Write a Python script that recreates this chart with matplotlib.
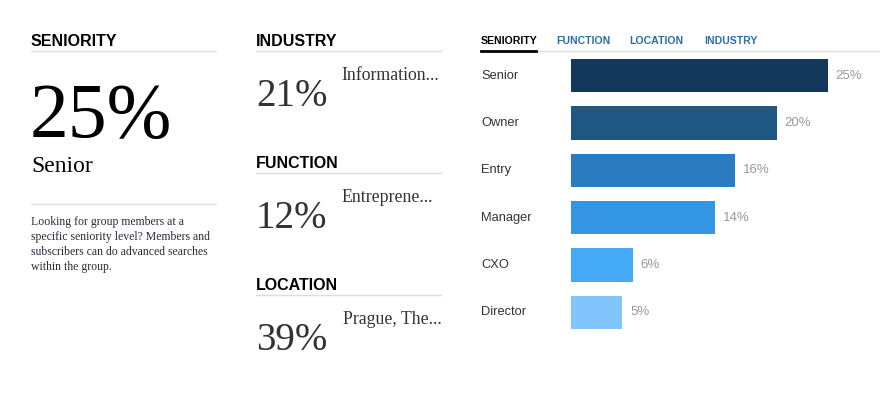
import matplotlib.pyplot as plt
from matplotlib.lines import Line2D
from matplotlib.transforms import blended_transform_factory

W, H = 880, 395

# data
seniority = ['Senior', 'Owner', 'Entry', 'Manager', 'CXO', 'Director']
share = [25, 20, 16, 14, 6, 5]
bar_colors = ['#13385a', '#1d5782', '#2a7bbf', '#3496e3', '#45aaf7', '#82c4fc']
tabs = ['SENIORITY', 'FUNCTION', 'LOCATION', 'INDUSTRY']
top_sections = ['INDUSTRY', 'FUNCTION', 'LOCATION']
top_pct = [21, 12, 39]
top_names = ['Information...', 'Entreprene...', 'Prague, The...']

SANS = 'Liberation Sans'
SERIF = 'Liberation Serif'


def fx(x):
    return x / W


def fy(y):
    return 1 - y / H


def hline(fig, x0, x1, y, color='#dddddd', lw=1.0):
    fig.add_artist(Line2D([fx(x0), fx(x1)], [fy(y), fy(y)], color=color, lw=lw,
                          transform=fig.transFigure))


fig = plt.figure(figsize=(W / 100, H / 100), dpi=100)
fig.patch.set_facecolor('white')

# left column
fig.text(fx(31), fy(42), 'SENIORITY', fontsize=11.5, fontweight='bold', family=SANS,
         color='black', va='center')
hline(fig, 31, 216, 51)
fig.text(fx(30), fy(118), f'{share[0]}%', fontsize=56, family=SERIF, color='black', va='center')
fig.text(fx(31), fy(166), seniority[0], fontsize=17, family=SERIF, color='black', va='center')
hline(fig, 31, 216, 204)
para = ('Looking for group members at a\nspecific seniority level? Members and\n'
        'subscribers can do advanced searches\nwithin the group.')
fig.text(fx(31), fy(216), para, fontsize=8.5, family=SERIF, color='#2b2b3b', va='top',
         linespacing=1.33)

# middle column
head_y = [42, 164, 286]
for i, name in enumerate(top_sections):
    y = head_y[i]
    fig.text(fx(256), fy(y), name, fontsize=11.5, fontweight='bold', family=SANS,
             color='black', va='center')
    hline(fig, 256, 441, y + 9)
    fig.text(fx(256), fy(y + 54), f'{top_pct[i]}%', fontsize=28, family=SERIF,
             color='#333333', va='center')
    fig.text(fx(341 if i < 2 else 343), fy(y + 33), top_names[i], fontsize=12.8,
             family=SERIF, color='#333333', va='center')

# tabs
tab_x = [481, 556, 629, 704]
for i, t in enumerate(tabs):
    fig.text(fx(tab_x[i]), fy(41), t, fontsize=7.6, fontweight='bold', family=SANS,
             color='black' if i == 0 else '#2a6ea6', va='center')
hline(fig, 536, 880, 51, color='#dddddd', lw=1.0)
hline(fig, 481, 536, 50.5, color='black', lw=2.0)

# bar chart
top_px, bot_px = 59, 329
ax = fig.add_axes([fx(571), fy(bot_px), fx(880 - 571), (bot_px - top_px) / H])
ypos = list(range(len(seniority)))
ax.barh(ypos, share, height=0.7, color=bar_colors)
ax.set_xlim(0, (880 - 571) / 10.28)
ax.set_ylim(len(seniority) - 0.65, -0.35)
ax.axis('off')
lab_tr = blended_transform_factory(fig.transFigure, ax.transData)
for i, (lab, v) in enumerate(zip(seniority, share)):
    ax.text(v + 0.75, i, f'{v}%', fontsize=9.5, family=SANS, color='#999999', va='center')
    ax.text(fx(481), i, lab, transform=lab_tr, fontsize=9.3, family=SANS,
            color='#333333', va='center', ha='left')

fig.savefig('out.png', dpi=100, facecolor='white')
